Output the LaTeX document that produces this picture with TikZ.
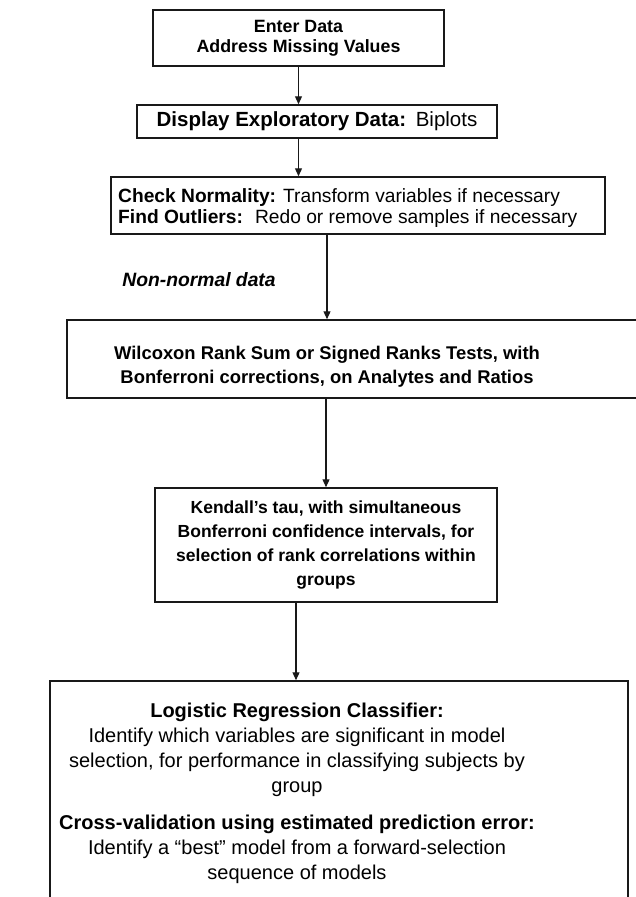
\documentclass[tikz,border=0pt]{standalone}
\usepackage{fontspec}
\setmainfont{Liberation Sans}
\usetikzlibrary{arrows.meta}
\newcommand\myfs[2]{\fontsize{#1}{#2}\selectfont}
\begin{document}
\begin{tikzpicture}[x=1pt,y=-1pt,
  box/.style={draw=black!90, line width=1.5pt, inner sep=0pt},
  flow/.style={draw=black!90, line width=1.2pt, -{Triangle[length=8pt,width=7pt]}},
  plain/.style={inner sep=0pt}]
\useasboundingbox (0,0) rectangle (636,897);
\clip (0,0) rectangle (636,897);
\fill[white] (0,0) rectangle (636,897);

\node[box, minimum width=291pt, minimum height=56pt, align=center,
      font=\myfs{17.8}{20}\bfseries] (b1) at (298.5,38)
      {Enter Data\\Address Missing Values};

\node[box, minimum width=360pt, minimum height=33pt,
      font=\myfs{20.5}{23}] (b2) at (317,121.5)
      {\textbf{Display Exploratory Data:}\hspace{2pt} Biplots};

\node[box, minimum width=494pt, minimum height=57pt] (b3) at (358,205.5) {};
\node[plain, anchor=west, align=left, font=\myfs{19.2}{21}] (t3) at (118,208)
      {\textbf{Check Normality:} Transform variables if necessary\\
       \textbf{Find Outliers:}\hspace{5pt} Redo or remove samples if necessary};

\node[plain, font=\myfs{19.3}{21}\bfseries\itshape] (lbl) at (199,280) {Non-normal data};

\node[box, minimum width=633pt, minimum height=78pt] (b4) at (383.5,359) {};
\node[plain, align=center, font=\myfs{18.4}{24}\bfseries] (t4) at (327,367)
      {Wilcoxon Rank Sum or Signed Ranks Tests, with\\
       Bonferroni corrections, on Analytes and Ratios};

\node[box, minimum width=342pt, minimum height=114pt, align=center,
      font=\myfs{17.5}{23.7}\bfseries] (b5) at (326,545)
      {Kendall’s tau, with simultaneous\\
       Bonferroni confidence intervals, for\\
       selection of rank correlations within\\
       groups};

\node[box, minimum width=578pt, minimum height=240pt] (b6) at (339,801) {};
\node[plain, align=center, font=\myfs{20}{25}] (t6) at (297,793)
      {\textbf{Logistic Regression Classifier:}\\
       Identify which variables are significant in model\\
       selection, for performance in classifying subjects by\\
       group\\[12pt]
       \textbf{Cross-validation using estimated prediction error:}\\
       Identify a “best” model from a forward-selection\\
       sequence of models};

\coordinate (ax5) at (296,0);
\draw[flow] (b1.south) -- (b2.north -| b1.south);
\draw[flow] (b2.south -| b1.south) -- (b3.north -| b1.south);
\draw[flow] (b3.south -| t4) -- (b4.north -| t4);
\draw[flow] (b4.south -| b5) -- (b5.north);
\draw[flow] (b5.south -| ax5) -- (b6.north -| ax5);
\end{tikzpicture}
\end{document}
